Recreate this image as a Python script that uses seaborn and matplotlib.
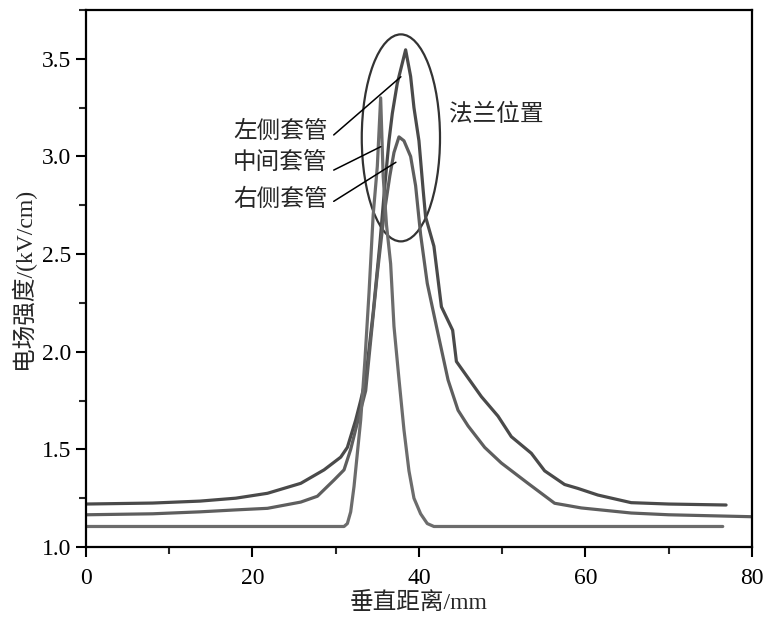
import numpy as np
import pandas as pd
import matplotlib.pyplot as plt
import seaborn as sns
from matplotlib.patches import Ellipse
from matplotlib.ticker import MultipleLocator

# 左侧套管
left_x = [0, 8, 13.7, 18, 21.8, 25.8, 28.6, 30.6, 31.4, 32.4, 33.0, 33.6, 34.5, 35.3, 35.9,
          36.4, 36.8, 37.4, 38.4, 39.0, 39.4, 40.0, 40.5, 40.8, 41.8, 42.7, 44.05, 44.5, 45.5,
          47.5, 49.5, 51.1, 53.5, 55.1, 57.5, 59.1, 61.5, 65.5, 70, 76.9]
left_y = [1.22, 1.225, 1.235, 1.25, 1.275, 1.326, 1.395, 1.46, 1.51, 1.65, 1.75, 1.86, 2.2, 2.55, 2.85,
          3.08, 3.22, 3.375, 3.546, 3.41, 3.25, 3.08, 2.83, 2.69, 2.54, 2.23, 2.11, 1.95, 1.89,
          1.77, 1.67, 1.565, 1.48, 1.39, 1.32, 1.30, 1.266, 1.227, 1.22, 1.215]

# 右侧套管
right_x = [0, 8, 13.7, 18, 21.8, 25.8, 27.8, 29.8, 31.0, 31.8, 32.8, 33.6, 34.3, 35.0, 35.8,
           36.5, 37.0, 37.6, 38.2, 39.0, 39.6, 40.2, 41.0, 42.2, 43.5, 44.7, 45.9, 47.9, 49.9,
           53.1, 56.3, 59.5, 65.5, 70, 75, 80]
right_y = [1.165, 1.17, 1.18, 1.19, 1.198, 1.23, 1.26, 1.343, 1.395, 1.50, 1.67, 1.80, 2.1, 2.4, 2.7,
           2.9, 3.02, 3.10, 3.08, 3.0, 2.85, 2.6, 2.35, 2.11, 1.855, 1.70, 1.62, 1.51, 1.43,
           1.326, 1.224, 1.20, 1.174, 1.165, 1.16, 1.155]

# 中间套管
mid_x = [0, 31.0, 31.4, 31.8, 32.2, 32.6, 33.0, 33.5, 34.0, 34.5, 35.0, 35.4, 35.7, 36.1, 36.6,
         37.0, 37.6, 38.2, 38.8, 39.4, 40.2, 41.0, 41.8, 50, 60, 76.5]
mid_y = [1.105, 1.105, 1.12, 1.18, 1.31, 1.48, 1.65, 1.95, 2.3, 2.7, 2.95, 3.30, 2.9, 2.65, 2.45,
         2.13, 1.86, 1.6, 1.39, 1.25, 1.17, 1.12, 1.105, 1.105, 1.105, 1.105]

series = [
    ('左侧套管', left_x, left_y, '#4a4a4a'),
    ('右侧套管', right_x, right_y, '#5e5e5e'),
    ('中间套管', mid_x, mid_y, '#6c6c6c'),
]

sns.set_style('ticks')
plt.rcParams['font.family'] = ['Liberation Serif', 'Noto Sans CJK SC']
plt.rcParams['axes.unicode_minus'] = False

fig = plt.figure(figsize=(7.68, 6.23), dpi=100)
ax = fig.add_axes([0.112, 0.122, 0.867, 0.862])

for name, xs, ys, color in series:
    df = pd.DataFrame({'x': xs, 'y': ys})
    sns.lineplot(data=df, x='x', y='y', ax=ax, color=color, lw=2.3,
                 sort=False, estimator=None)

ax.set_xlim(0, 80)
ax.set_ylim(1.0, 3.75)
ax.xaxis.set_major_locator(MultipleLocator(20))
ax.xaxis.set_minor_locator(MultipleLocator(10))
ax.yaxis.set_major_locator(MultipleLocator(0.5))
ax.yaxis.set_minor_locator(MultipleLocator(0.25))
ax.yaxis.set_major_formatter(plt.FuncFormatter(lambda v, p: f'{v:.1f}'))
ax.tick_params(which='major', direction='out', length=7, width=1.5, labelsize=17,
               top=False, right=False, colors='black')
ax.tick_params(axis='x', which='major', pad=8)
ax.tick_params(which='minor', direction='out', length=5, width=1.5,
               top=False, right=False)
for sp in ax.spines.values():
    sp.set_visible(True)
    sp.set_linewidth(1.6)
    sp.set_color('black')

ax.set_xlabel('垂直距离/mm', fontsize=17, labelpad=2)
ax.set_ylabel('电场强度/(kV/cm)', fontsize=17, labelpad=5)

# flange ellipse and labels
ax.add_patch(Ellipse((37.83, 3.095), 9.4, 1.06, fill=False, edgecolor='#333333', lw=1.6))
ax.text(43.6, 3.213, '法兰位置', fontsize=17, va='center', ha='left')

labels = [
    ('左侧套管', 3.126, (29.76, 3.11), (37.83, 3.408)),
    ('中间套管', 2.967, (29.76, 2.93), (35.42, 3.05)),
    ('右侧套管', 2.78, (29.76, 2.77), (37.23, 2.97)),
]
for text, ty, p0, p1 in labels:
    ax.text(29.0, ty, text, fontsize=17, va='center', ha='right')
    ax.plot([p0[0], p1[0]], [p0[1], p1[1]], color='black', lw=1.1)

fig.savefig('out.png', dpi=100)
